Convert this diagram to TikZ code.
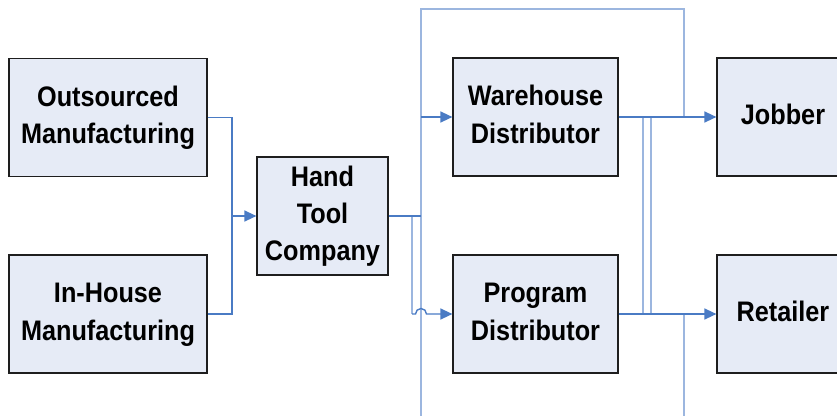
\documentclass[tikz,border=0pt]{standalone}
\usepackage{fontspec}
\setmainfont{Liberation Sans}
\usetikzlibrary{arrows.meta}
\definecolor{boxfill}{HTML}{E6EBF6}
\definecolor{boxline}{HTML}{1E1E1E}
\definecolor{dkblue}{HTML}{4A7BC4}
\definecolor{ltblue}{HTML}{9CB6DF}
\newcommand{\boxtxt}[1]{\raisebox{-2pt}{\scalebox{1.01}[1.13]{\begin{tabular}{@{}c@{}}#1\end{tabular}}}}
\tikzset{
  blk/.style={draw=boxline, line width=1.2pt, fill=boxfill, rectangle, inner sep=0pt,
    font=\fontsize{25}{33}\selectfont\bfseries, align=center},
  dk/.style={draw=dkblue, line width=1.4pt},
  lt/.style={draw=ltblue, line width=1.3pt},
  arr/.style={-{Triangle[length=12pt,width=11pt]}}
}
\begin{document}
\begin{tikzpicture}[x=1pt,y=-1pt]
\useasboundingbox (0,0) rectangle (837,415);
\clip (0,0) rectangle (837,415);
% boxes
\node[blk, minimum width=198pt, minimum height=118pt] (out) at (108,117.5) {\boxtxt{Outsourced\\Manufacturing}};
\node[blk, minimum width=198pt, minimum height=118pt] (inh) at (108,314) {\boxtxt{In-House\\Manufacturing}};
\node[blk, minimum width=131pt, minimum height=118pt] (htc) at (322.5,216) {\boxtxt{Hand\\Tool\\Company}};
\node[blk, minimum width=165pt, minimum height=118pt] (wd) at (535.5,117) {\boxtxt{Warehouse\\Distributor}};
\node[blk, minimum width=165pt, minimum height=118pt] (pd) at (535.5,314) {\boxtxt{Program\\Distributor}};
\node[blk, minimum width=132pt, minimum height=118pt] (job) at (783,117) {\boxtxt{Jobber}};
\node[blk, minimum width=132pt, minimum height=118pt] (ret) at (783,314) {\boxtxt{Retailer}};
% coordinates
\coordinate (j1) at (232,216);
\coordinate (t1) at (421,9);
\coordinate (t2) at (684,9);
\coordinate (b1) at (421,440);
\coordinate (b2) at (684,440);
\coordinate (h1) at (412,216);
\coordinate (h2) at (412,314);
\coordinate (v1) at (643,117);
\coordinate (v2) at (643,314);
\coordinate (w1) at (651,117);
\coordinate (w2) at (651,314);
% manufacturing to hand tool
\draw[dk] (out.east) -| (j1);
\draw[dk] (inh.east) -| (j1);
\draw[dk,arr] (j1) -- (htc.west);
% light loop lines
\draw[lt] (b1) -- (t1) -- (t2) -- (t2 |- job.west);
\draw[lt] (b2) -- (b2 |- ret.west);
\draw[lt] (h1) -- (h2);
\draw[lt] (v1) -- (v2);
\draw[lt] (w1) -- (w2);
% hand tool out
\draw[dk] (htc.east) -- (t1 |- htc.east);
\draw[dk,arr] (t1 |- wd.west) -- (wd.west);
\draw[dk,arr] (h2) -- (415.5,314) arc[start angle=180, end angle=0, radius=5.5pt] -- (pd.west);
% distributors to jobber / retailer
\draw[dk,arr] (wd.east) -- (job.west);
\draw[dk,arr] (pd.east) -- (ret.west);
\end{tikzpicture}
\end{document}
